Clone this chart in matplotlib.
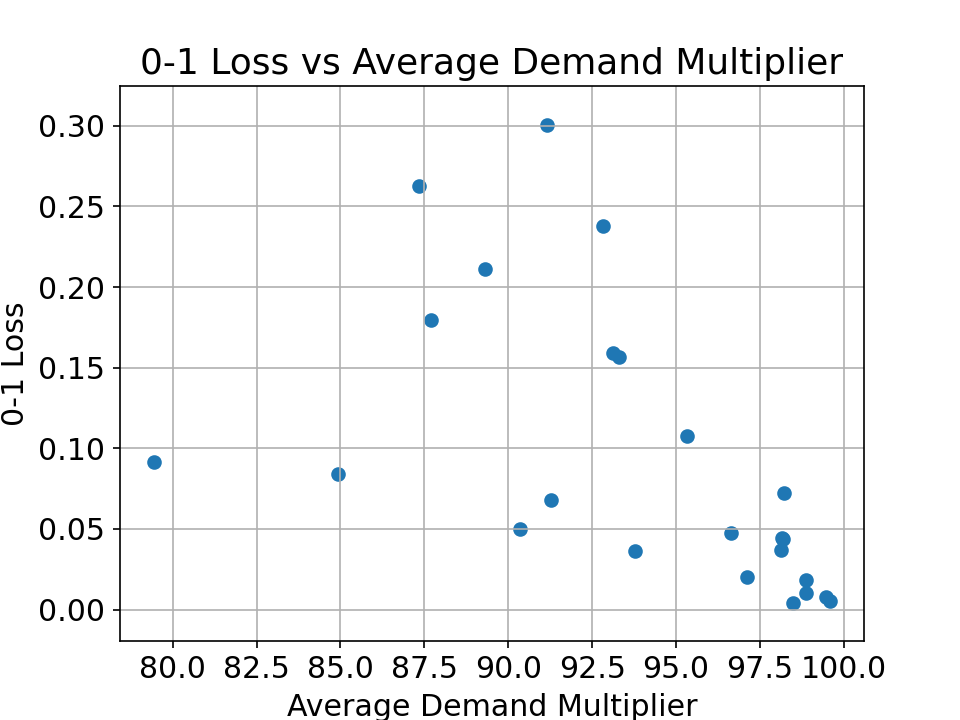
import matplotlib
matplotlib.use("Agg")
import matplotlib.pyplot as plt

avg_demand_multiplier = [79.44, 84.92, 87.33, 87.69, 89.30, 90.34, 91.16, 91.26, 92.82,
                         93.11, 93.29, 93.77, 95.32, 96.63, 97.11, 98.13, 98.21, 98.16,
                         98.20, 98.88, 98.86, 98.48, 99.46, 99.60]
zero_one_loss = [0.0915, 0.0840, 0.2627, 0.1795, 0.2111, 0.0499, 0.3004, 0.0679, 0.2378,
                 0.1590, 0.1566, 0.0363, 0.1076, 0.0473, 0.0200, 0.0367, 0.0721, 0.0446,
                 0.0438, 0.0183, 0.0100, 0.0040, 0.0076, 0.0053]

plt.rcParams['font.size'] = 14.4
fig, ax = plt.subplots(figsize=(6.4, 4.8), dpi=150)
ax.scatter(avg_demand_multiplier, zero_one_loss, color='#1f77b4')
ax.set_xlim(78.43, 100.6)
ax.set_ylim(-0.0194, 0.3244)
ax.set_xticks([80.0, 82.5, 85.0, 87.5, 90.0, 92.5, 95.0, 97.5, 100.0])
ax.set_yticks([0.00, 0.05, 0.10, 0.15, 0.20, 0.25, 0.30])
ax.grid(True)
ax.set_title('0-1 Loss vs Average Demand Multiplier')
ax.set_xlabel('Average Demand Multiplier')
ax.set_ylabel('0-1 Loss')
fig.savefig('out.png', dpi=150)
